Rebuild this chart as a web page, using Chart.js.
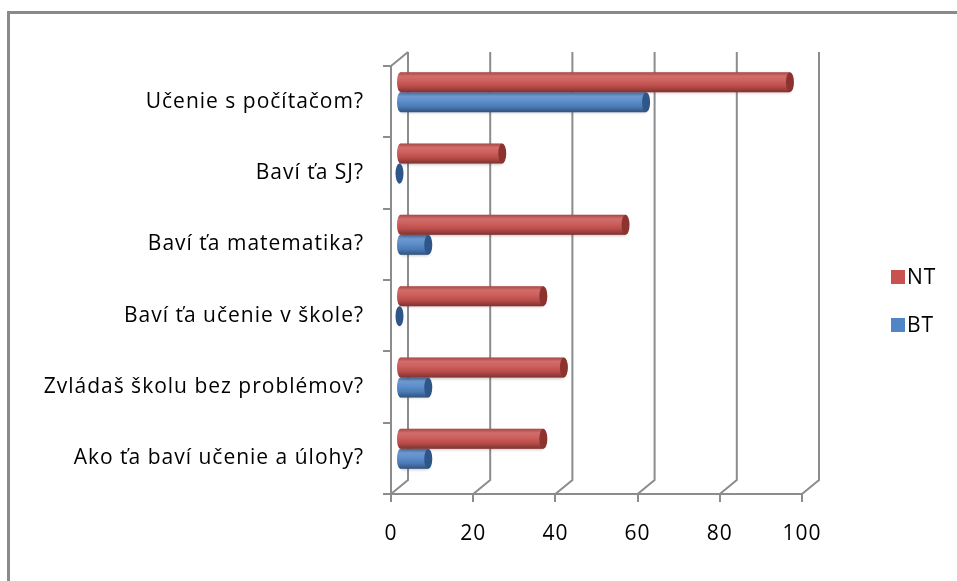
<!DOCTYPE html>
<html>
<head>
<meta charset="utf-8">
<script src="https://cdn.jsdelivr.net/npm/chart.js@4/dist/chart.umd.min.js"></script>
<style>
  html, body { margin: 0; padding: 0; background: #fff; }
  #wrap { position: relative; width: 957px; height: 581px; overflow: hidden; }
  #frame {
    position: absolute; left: 7px; top: 11px; right: -10px; bottom: -10px;
    border-top: 3px solid #8a8a8a; border-left: 3px solid #8a8a8a;
    pointer-events: none;
  }
  canvas { position: absolute; left: 0; top: 0; }
</style>
</head>
<body>
<div id="wrap">
  <canvas id="chart" width="957" height="581"></canvas>
  <div id="frame"></div>
</div>
<script>
'use strict';

/* ── Data ───────────────────────────────────────────── */
const categories = [
    'Učenie s počítačom?',
    'Baví ťa SJ?',
    'Baví ťa matematika?',
    'Baví ťa učenie v škole?',
    'Zvládaš školu bez problémov?',
    'Ako ťa baví učenie a úlohy?'
];
const ntValues = [95, 25, 55, 35, 40, 35];
const btValues = [60, 0, 7, 0, 7, 7];
const xTicks = [0, 20, 40, 60, 80, 100];

const RED = '#C8524F', RED_DARK = '#8C3330';
const BLUE = '#5185C6', BLUE_DARK = '#2F5689';
const GRID = '#8c8c8c';
const FONT = '"Open Sans", "DejaVu Sans", sans-serif';
const FONT_SIZE = 21;

// 3D depth: back wall offset, bars sit halfway
const DEPTH_X = 17, DEPTH_Y = -14;

/* ── Text spacing (the original text is spread out) ─── */
const spacingPlugin = {
    id: 'spacing',
    beforeDraw(chart) { chart.ctx.letterSpacing = '1px'; }
};

/* ── Back wall / floor grid ─────────────────────────── */
const wallPlugin = {
    id: 'wall',
    beforeDatasetsDraw(chart) {
        const { ctx, chartArea: a, scales } = chart;
        ctx.save();
        ctx.strokeStyle = GRID;
        ctx.lineWidth = 2;
        xTicks.forEach(v => {
            const xf = scales.x.getPixelForValue(v);
            ctx.beginPath();
            ctx.moveTo(xf + DEPTH_X, a.top + DEPTH_Y);
            ctx.lineTo(xf + DEPTH_X, a.bottom + DEPTH_Y);
            ctx.lineTo(xf, a.bottom);
            ctx.stroke();
        });
        // top-left edge of the side wall
        ctx.beginPath();
        ctx.moveTo(a.left, a.top);
        ctx.lineTo(a.left + DEPTH_X, a.top + DEPTH_Y);
        ctx.stroke();
        ctx.restore();
    }
};

/* ── Cylinder bars: shift to mid depth, shade, add caps ─ */
const cylinderPlugin = {
    id: 'cylinder',
    beforeDatasetsDraw(chart) {
        const ctx = chart.ctx;
        ctx.save();
        ctx.translate(DEPTH_X / 2, DEPTH_Y / 2 - 2.5);
        ctx.save();
        ctx.shadowColor = 'rgba(90,40,40,0.35)';
        ctx.shadowBlur = 3;
        ctx.shadowOffsetY = 1;
    },
    afterDatasetsDraw(chart) {
        const ctx = chart.ctx;
        ctx.restore(); // drop the shadow
        chart.data.datasets.forEach((ds, di) => {
            const dark = di === 0 ? RED_DARK : BLUE_DARK;
            chart.getDatasetMeta(di).data.forEach(bar => {
                const { x, y, base, height } = bar.getProps(['x', 'y', 'base', 'height'], true);
                const top = y - height / 2;
                const g = ctx.createLinearGradient(0, top, 0, top + height);
                g.addColorStop(0, 'rgba(0,0,0,0.15)');
                g.addColorStop(0.2, 'rgba(255,255,255,0.16)');
                g.addColorStop(0.45, 'rgba(255,255,255,0.08)');
                g.addColorStop(0.7, 'rgba(0,0,0,0.06)');
                g.addColorStop(1, 'rgba(0,0,0,0.38)');
                ctx.fillStyle = g;
                ctx.fillRect(base, top, x - base, height);
                // left cap
                ctx.fillStyle = di === 0 ? RED : BLUE;
                ctx.beginPath();
                ctx.ellipse(base, y, 3.5, height / 2, 0, 0, Math.PI * 2);
                ctx.fill();
                ctx.fillStyle = g;
                ctx.fill();
                // right cap
                ctx.fillStyle = dark;
                ctx.beginPath();
                ctx.ellipse(x, y, 4, height / 2, 0, 0, Math.PI * 2);
                ctx.fill();
            });
        });
        ctx.restore();
    }
};

/* ── Legend ─────────────────────────────────────────── */
const legendPlugin = {
    id: 'sideLegend',
    afterDraw(chart) {
        const ctx = chart.ctx;
        ctx.save();
        ctx.font = FONT_SIZE + 'px ' + FONT;
        ctx.textBaseline = 'middle';
        chart.data.datasets.forEach((ds, i) => {
            const cy = 277 + i * 48;
            ctx.fillStyle = ds.backgroundColor;
            ctx.fillRect(891, cy - 7, 14, 14);
            ctx.fillStyle = '#000';
            ctx.fillText(ds.label, 907, cy + 1);
        });
        ctx.restore();
    }
};

new Chart(document.getElementById('chart'), {
    type: 'bar',
    data: {
        labels: categories,
        datasets: [
            { label: 'NT', data: ntValues, backgroundColor: RED },
            { label: 'BT', data: btValues, backgroundColor: BLUE }
        ]
    },
    options: {
        indexAxis: 'y',
        responsive: false,
        animation: false,
        datasets: { bar: { categoryPercentage: 0.56, barPercentage: 1 } },
        layout: { padding: { left: 10, right: 155, top: 66, bottom: 27 } },
        plugins: { legend: { display: false }, tooltip: { enabled: false } },
        scales: {
            x: {
                min: 0, max: 100,
                afterBuildTicks: s => { s.ticks = xTicks.map(v => ({ value: v })); },
                afterFit: s => { s.height = 60; },
                grid: { drawOnChartArea: false, drawTicks: true, tickLength: 8, color: GRID, lineWidth: 2 },
                border: { color: GRID, width: 2 },
                ticks: { color: '#000', font: { family: FONT, size: FONT_SIZE }, padding: 19 }
            },
            y: {
                afterFit: s => { s.width = 381; },
                grid: { drawOnChartArea: false, drawTicks: true, tickLength: 8, color: GRID, lineWidth: 2 },
                border: { color: GRID, width: 2 },
                ticks: { color: '#000', font: { family: FONT, size: FONT_SIZE }, padding: 19 }
            }
        }
    },
    plugins: [spacingPlugin, wallPlugin, cylinderPlugin, legendPlugin]
});
</script>
</body>
</html>
